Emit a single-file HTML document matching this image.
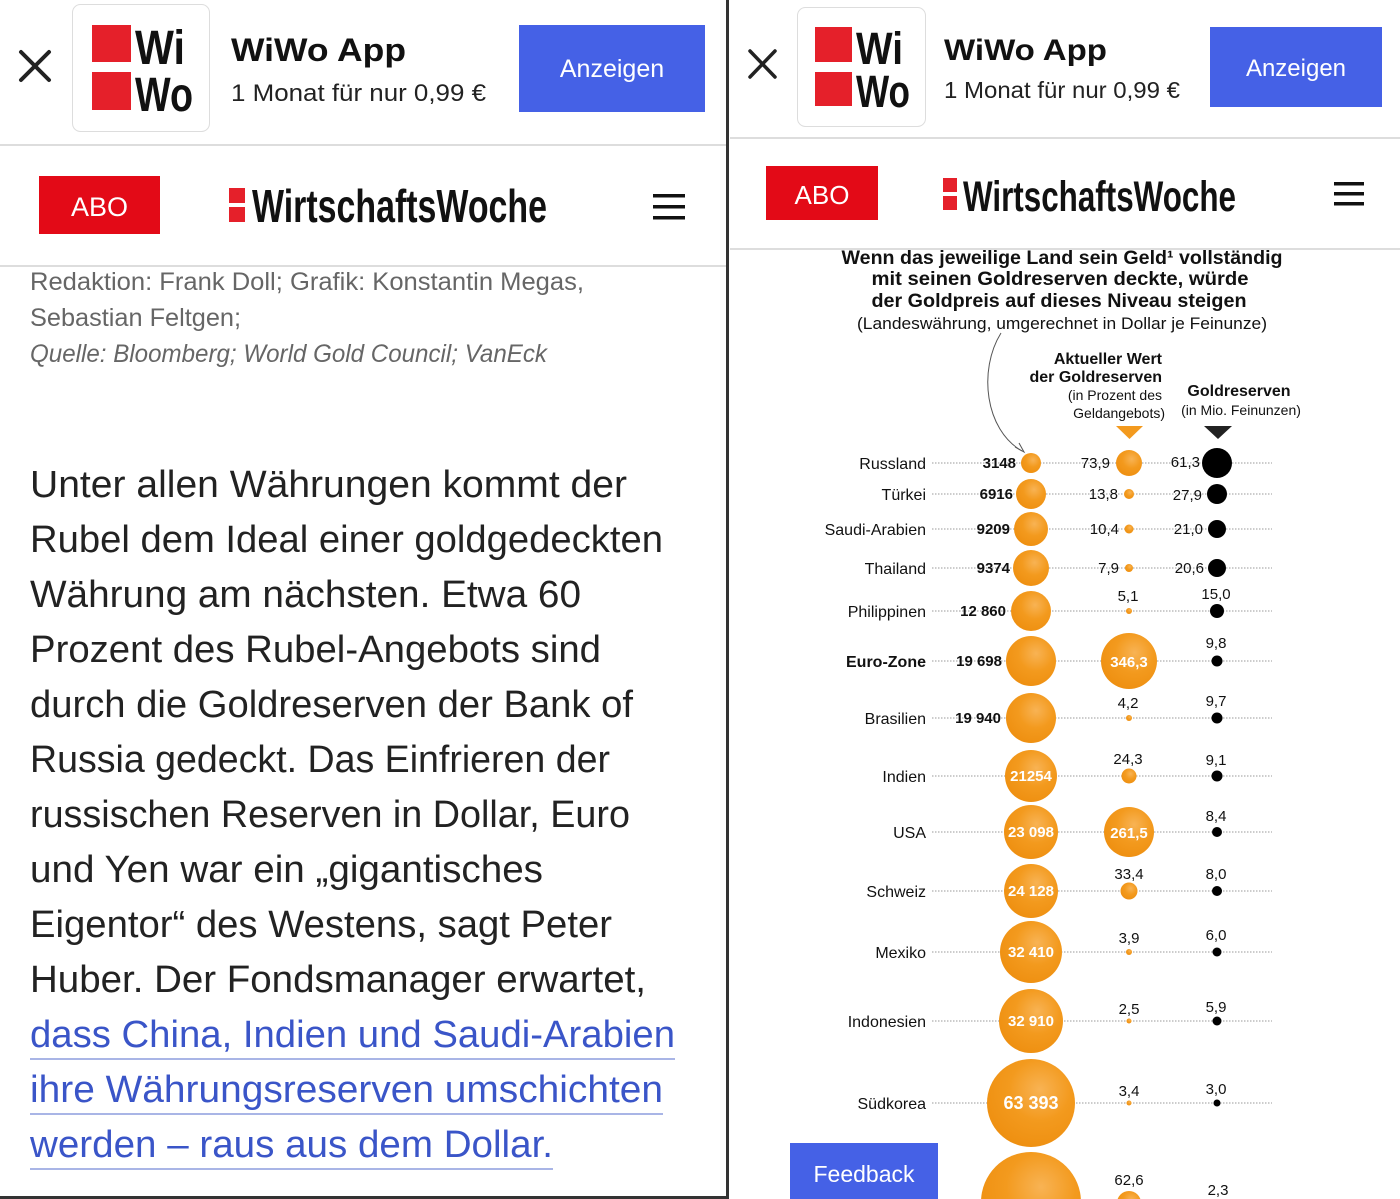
<!DOCTYPE html>
<html><head><meta charset="utf-8"><style>
html,body{margin:0;padding:0;background:#fff;width:1400px;height:1199px;overflow:hidden}
svg{display:block}
text{font-family:"Liberation Sans",sans-serif}
</style></head><body>
<svg width="1400" height="1199" viewBox="0 0 1400 1199" xmlns="http://www.w3.org/2000/svg">
<defs>
<radialGradient id="og" cx="0.6" cy="0.35" r="0.7">
<stop offset="0" stop-color="#f8b354"/><stop offset="0.5" stop-color="#f39a1e"/><stop offset="1" stop-color="#ee8f10"/>
</radialGradient>
</defs>
<rect width="1400" height="1199" fill="#fff"/>

<!-- LEFT PANEL -->
<g stroke="#222" stroke-width="4" stroke-linecap="round"><line x1="21" y1="52" x2="49" y2="80"/><line x1="49" y1="52" x2="21" y2="80"/></g>
<rect x="72.5" y="4.5" width="137" height="127" rx="8" fill="#fff" stroke="#ddd"/>
<rect x="92" y="25" width="39" height="37" fill="#e5202a"/><rect x="92" y="72" width="39" height="38" fill="#e5202a"/>
<text x="135" y="64" font-size="48" font-weight="bold" textLength="50" lengthAdjust="spacingAndGlyphs" fill="#111">Wi</text>
<text x="135" y="111" font-size="48" font-weight="bold" textLength="58" lengthAdjust="spacingAndGlyphs" fill="#111">Wo</text>
<text x="231" y="61" font-size="32" font-weight="bold" textLength="175" lengthAdjust="spacingAndGlyphs" fill="#111">WiWo App</text>
<text x="231" y="101" font-size="24" textLength="255" lengthAdjust="spacingAndGlyphs" fill="#222">1 Monat für nur 0,99 €</text>
<rect x="519" y="25" width="186" height="87" fill="#4561e6"/>
<text x="612" y="77" font-size="25" fill="#fff" text-anchor="middle">Anzeigen</text>
<rect x="0" y="144" width="727" height="2" fill="#ddd"/>
<rect x="39" y="176" width="121" height="58" fill="#e30a17"/>
<text x="99.5" y="216" font-size="27" fill="#fff" text-anchor="middle">ABO</text>
<rect x="229" y="188" width="16" height="15" fill="#e5202a"/><rect x="229" y="207" width="16" height="15" fill="#e5202a"/>
<text x="252" y="222" font-size="46" font-weight="bold" textLength="295" lengthAdjust="spacingAndGlyphs" fill="#111">WirtschaftsWoche</text>
<g fill="#111"><rect x="653" y="194" width="32" height="3.5"/><rect x="653" y="205" width="32" height="3.5"/><rect x="653" y="216" width="32" height="3.5"/></g>
<rect x="0" y="265" width="727" height="2" fill="#ddd"/>

<g fill="#666" font-size="25">
<text x="30" y="290" textLength="554" lengthAdjust="spacingAndGlyphs">Redaktion: Frank Doll; Grafik: Konstantin Megas,</text>
<text x="30" y="326" textLength="211" lengthAdjust="spacingAndGlyphs">Sebastian Feltgen;</text>
<text x="30" y="362" font-style="italic" textLength="517" lengthAdjust="spacingAndGlyphs">Quelle: Bloomberg; World Gold Council; VanEck</text>
</g>
<g fill="#222" font-size="38">
<text x="30" y="497" textLength="597" lengthAdjust="spacingAndGlyphs">Unter allen Währungen kommt der</text>
<text x="30" y="552" textLength="633" lengthAdjust="spacingAndGlyphs">Rubel dem Ideal einer goldgedeckten</text>
<text x="30" y="607" textLength="551" lengthAdjust="spacingAndGlyphs">Währung am nächsten. Etwa 60</text>
<text x="30" y="662" textLength="571" lengthAdjust="spacingAndGlyphs">Prozent des Rubel-Angebots sind</text>
<text x="30" y="717" textLength="603" lengthAdjust="spacingAndGlyphs">durch die Goldreserven der Bank of</text>
<text x="30" y="772" textLength="580" lengthAdjust="spacingAndGlyphs">Russia gedeckt. Das Einfrieren der</text>
<text x="30" y="827" textLength="600" lengthAdjust="spacingAndGlyphs">russischen Reserven in Dollar, Euro</text>
<text x="30" y="882" textLength="513" lengthAdjust="spacingAndGlyphs">und Yen war ein „gigantisches</text>
<text x="30" y="937" textLength="582" lengthAdjust="spacingAndGlyphs">Eigentor“ des Westens, sagt Peter</text>
<text x="30" y="992" textLength="616" lengthAdjust="spacingAndGlyphs">Huber. Der Fondsmanager erwartet,</text>
</g>
<g fill="#3a55c8" font-size="38">
<text x="30" y="1047" textLength="645" lengthAdjust="spacingAndGlyphs">dass China, Indien und Saudi-Arabien</text>
<text x="30" y="1102" textLength="633" lengthAdjust="spacingAndGlyphs">ihre Währungsreserven umschichten</text>
<text x="30" y="1157" textLength="523" lengthAdjust="spacingAndGlyphs">werden – raus aus dem Dollar.</text>
</g>
<g fill="#a9b5e6"><rect x="30" y="1058" width="645" height="2"/><rect x="30" y="1113" width="633" height="2"/><rect x="30" y="1168" width="523" height="2"/></g>
<rect x="726" y="0" width="3" height="1199" fill="#333"/>
<rect x="0" y="1196" width="728" height="3" fill="#333"/>

<!-- RIGHT PANEL -->
<g stroke="#222" stroke-width="3.5" stroke-linecap="round"><line x1="750" y1="51" x2="775" y2="77"/><line x1="775" y1="51" x2="750" y2="77"/></g>
<rect x="797.5" y="7.5" width="128" height="119" rx="8" fill="#fff" stroke="#ddd"/>
<rect x="815" y="27" width="37" height="35" fill="#e5202a"/><rect x="815" y="72" width="37" height="34" fill="#e5202a"/>
<text x="856" y="64" font-size="45" font-weight="bold" textLength="47" lengthAdjust="spacingAndGlyphs" fill="#111">Wi</text>
<text x="856" y="107" font-size="45" font-weight="bold" textLength="54" lengthAdjust="spacingAndGlyphs" fill="#111">Wo</text>
<text x="944" y="60" font-size="30" font-weight="bold" textLength="163" lengthAdjust="spacingAndGlyphs" fill="#111">WiWo App</text>
<text x="944" y="98" font-size="23" textLength="236" lengthAdjust="spacingAndGlyphs" fill="#222">1 Monat für nur 0,99 €</text>
<rect x="1210" y="27" width="172" height="80" fill="#4561e6"/>
<text x="1296" y="76" font-size="24" fill="#fff" text-anchor="middle">Anzeigen</text>
<rect x="730" y="137" width="670" height="2" fill="#ddd"/>
<rect x="766" y="166" width="112" height="54" fill="#e30a17"/>
<text x="822" y="204" font-size="26" fill="#fff" text-anchor="middle">ABO</text>
<rect x="943" y="178" width="14" height="14" fill="#e5202a"/><rect x="943" y="196" width="14" height="14" fill="#e5202a"/>
<text x="963" y="211" font-size="43" font-weight="bold" textLength="273" lengthAdjust="spacingAndGlyphs" fill="#111">WirtschaftsWoche</text>
<g fill="#111"><rect x="1334" y="182" width="30" height="3.5"/><rect x="1334" y="192" width="30" height="3.5"/><rect x="1334" y="202" width="30" height="3.5"/></g>
<rect x="730" y="248" width="670" height="2" fill="#ddd"/>

<!-- chart -->
<g fill="#111" font-weight="bold" font-size="19" text-anchor="middle">
<text x="1062" y="264" textLength="441" lengthAdjust="spacingAndGlyphs">Wenn das jeweilige Land sein Geld¹ vollständig</text>
<text x="1060" y="285" textLength="377" lengthAdjust="spacingAndGlyphs">mit seinen Goldreserven deckte, würde</text>
<text x="1059" y="307" textLength="375" lengthAdjust="spacingAndGlyphs">der Goldpreis auf dieses Niveau steigen</text>
</g>
<text x="1062" y="329" font-size="17" text-anchor="middle" textLength="410" lengthAdjust="spacingAndGlyphs" fill="#111">(Landeswährung, umgerechnet in Dollar je Feinunze)</text>
<path d="M1001,333 C978,370 985,430 1022,451" fill="none" stroke="#555" stroke-width="1"/>
<path d="M1015,447 L1024,452 L1019,443" fill="none" stroke="#555" stroke-width="1"/>
<g fill="#111" text-anchor="end">
<text x="1162" y="364" font-size="16" font-weight="bold">Aktueller Wert</text>
<text x="1162" y="382" font-size="16" font-weight="bold">der Goldreserven</text>
<text x="1162" y="400" font-size="14">(in Prozent des</text>
<text x="1165" y="418" font-size="14">Geldangebots)</text>
</g>
<g fill="#111" text-anchor="middle">
<text x="1239" y="396" font-size="16" font-weight="bold">Goldreserven</text>
<text x="1241" y="415" font-size="14">(in Mio. Feinunzen)</text>
</g>
<path d="M1116,426 L1143,426 L1129.5,439 Z" fill="#f39a1e"/>
<path d="M1204,426 L1232,426 L1218,439 Z" fill="#222"/>

<g stroke="#999" stroke-width="1" stroke-dasharray="1.5,1.5">
<line x1="932" y1="463" x2="1272" y2="463"/><line x1="932" y1="494" x2="1272" y2="494"/>
<line x1="932" y1="529" x2="1272" y2="529"/><line x1="932" y1="568" x2="1272" y2="568"/>
<line x1="932" y1="611" x2="1272" y2="611"/><line x1="932" y1="661" x2="1272" y2="661"/>
<line x1="932" y1="718" x2="1272" y2="718"/><line x1="932" y1="776" x2="1272" y2="776"/>
<line x1="932" y1="832" x2="1272" y2="832"/><line x1="932" y1="891" x2="1272" y2="891"/>
<line x1="932" y1="952" x2="1272" y2="952"/><line x1="932" y1="1021" x2="1272" y2="1021"/>
<line x1="932" y1="1103" x2="1272" y2="1103"/>
</g>
<!-- col1 bubbles -->
<g fill="url(#og)">
<circle cx="1031" cy="463" r="10"/><circle cx="1031" cy="494" r="15"/><circle cx="1031" cy="529" r="17"/>
<circle cx="1031" cy="568" r="18"/><circle cx="1031" cy="611" r="20"/><circle cx="1031" cy="661" r="25"/>
<circle cx="1031" cy="718" r="25"/><circle cx="1031" cy="776" r="26"/><circle cx="1031" cy="832" r="27"/>
<circle cx="1031" cy="891" r="27"/><circle cx="1031" cy="952" r="31"/><circle cx="1031" cy="1021" r="32"/>
<circle cx="1031" cy="1103" r="44"/><circle cx="1031" cy="1202" r="50"/>
<circle cx="1129" cy="463" r="13"/><circle cx="1129" cy="494" r="5"/><circle cx="1129" cy="529" r="4.5"/>
<circle cx="1129" cy="568" r="4"/><circle cx="1129" cy="611" r="3"/><circle cx="1129" cy="661" r="28"/>
<circle cx="1129" cy="718" r="3"/><circle cx="1129" cy="776" r="7.5"/><circle cx="1129" cy="832" r="25"/>
<circle cx="1129" cy="891" r="8.5"/><circle cx="1129" cy="952" r="3"/><circle cx="1129" cy="1021" r="2.5"/>
<circle cx="1129" cy="1103" r="2.5"/><circle cx="1129" cy="1203" r="12"/>
</g>
<g fill="#000">
<circle cx="1217" cy="463" r="15"/><circle cx="1217" cy="494" r="10"/><circle cx="1217" cy="529" r="9"/>
<circle cx="1217" cy="568" r="9"/><circle cx="1217" cy="611" r="7"/><circle cx="1217" cy="661" r="5.5"/>
<circle cx="1217" cy="718" r="5.5"/><circle cx="1217" cy="776" r="5.5"/><circle cx="1217" cy="832" r="5"/>
<circle cx="1217" cy="891" r="5"/><circle cx="1217" cy="952" r="4.5"/><circle cx="1217" cy="1021" r="4.5"/>
<circle cx="1217" cy="1103" r="3.5"/>
</g>
<!-- country labels -->
<g fill="#111" font-size="16" text-anchor="end">
<text x="926" y="469">Russland</text><text x="926" y="500">Türkei</text><text x="926" y="535">Saudi-Arabien</text>
<text x="926" y="574">Thailand</text><text x="926" y="617">Philippinen</text>
<text x="926" y="667" font-weight="bold">Euro-Zone</text>
<text x="926" y="724">Brasilien</text><text x="926" y="782">Indien</text><text x="926" y="838">USA</text>
<text x="926" y="897">Schweiz</text><text x="926" y="958">Mexiko</text><text x="926" y="1027">Indonesien</text>
<text x="926" y="1109">Südkorea</text>
</g>
<g fill="#111" font-size="15" font-weight="bold" text-anchor="end">
<text x="1016" y="468">3148</text><text x="1013" y="499">6916</text><text x="1010" y="534">9209</text>
<text x="1010" y="573">9374</text><text x="1006" y="616">12 860</text><text x="1002" y="666">19 698</text>
<text x="1001" y="723">19 940</text>
</g>
<g fill="#fff" font-size="15" font-weight="bold" text-anchor="middle">
<text x="1031" y="781">21254</text><text x="1031" y="837">23 098</text><text x="1031" y="896">24 128</text>
<text x="1031" y="957">32 410</text><text x="1031" y="1026">32 910</text>
<text x="1031" y="1109" font-size="18">63 393</text>
<text x="1129" y="667">346,3</text><text x="1129" y="838">261,5</text>
</g>
<g fill="#111" font-size="15" text-anchor="end">
<text x="1110" y="468">73,9</text><text x="1118" y="499">13,8</text><text x="1119" y="534">10,4</text><text x="1119" y="573">7,9</text>
<text x="1200" y="467">61,3</text><text x="1202" y="500">27,9</text><text x="1203" y="534">21,0</text><text x="1204" y="573">20,6</text>
</g>
<g fill="#111" font-size="15" text-anchor="middle">
<text x="1128" y="601">5,1</text><text x="1128" y="708">4,2</text><text x="1128" y="764">24,3</text>
<text x="1129" y="879">33,4</text><text x="1129" y="943">3,9</text><text x="1129" y="1014">2,5</text>
<text x="1129" y="1096">3,4</text><text x="1129" y="1185">62,6</text>
<text x="1216" y="599">15,0</text><text x="1216" y="648">9,8</text><text x="1216" y="706">9,7</text>
<text x="1216" y="765">9,1</text><text x="1216" y="821">8,4</text><text x="1216" y="879">8,0</text>
<text x="1216" y="940">6,0</text><text x="1216" y="1012">5,9</text><text x="1216" y="1094">3,0</text>
<text x="1218" y="1195">2,3</text>
</g>

<rect x="790" y="1143" width="148" height="56" fill="#4561e6"/>
<text x="864" y="1182" font-size="23" fill="#fff" text-anchor="middle">Feedback</text>
</svg>
</body></html>
